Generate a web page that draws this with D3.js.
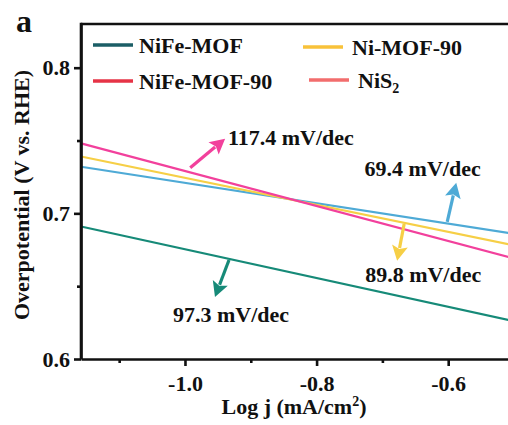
<!DOCTYPE html>
<html>
<head>
<meta charset="utf-8">
<script src="https://cdn.jsdelivr.net/npm/d3@7"></script>
<style>
  body { margin: 0; background: #fff; }
  text { font-family: "Liberation Serif", "Times New Roman", serif; font-weight: bold; fill: #111; }
</style>
</head>
<body>
<svg width="508" height="425"></svg>
<script>
// data
const logJ = [-1.158, -0.5];
const nifeMof = [0.691, 0.626];      // teal, 97.3 mV/dec
const blueLine = [0.732, 0.686];     // blue, 69.4 mV/dec
const yellowLine = [0.739, 0.678];   // yellow, 89.8 mV/dec
const pinkLine = [0.748, 0.669];     // pink, 117.4 mV/dec
const lineColors = ["#168a78", "#4eaad6", "#f6cf46", "#f2409c"];

const legendNames = ["NiFe-MOF", "Ni-MOF-90", "NiFe-MOF-90", "NiS2"];
const legendColors = ["#1b5e66", "#f8c23a", "#e63346", "#f26d6d"];

const xTicks = [-1.0, -0.8, -0.6];
const xMinor = [-1.1, -0.9, -0.7];
const yTicks = [0.6, 0.7, 0.8];
const yMinor = [0.65, 0.75];

// annotations: [tail x, tail y, head x, head y, label x, label y, label, colour]
const notes = [
  [-0.992, 0.7313, -0.939, 0.7512, -0.9346, 0.7471, "117.4 mV/dec", "#f2409c"],
  [-0.6015, 0.6942, -0.5878, 0.7210, -0.7270, 0.7258, "69.4 mV/dec", "#4eaad6"],
  [-0.6669, 0.6928, -0.6776, 0.6674, -0.7262, 0.6529, "89.8 mV/dec", "#f6cf46"],
  [-0.9331, 0.6680, -0.9544, 0.6426, -1.0183, 0.6254, "97.3 mV/dec", "#168a78"]
];

const svg = d3.select("svg");
const mLeft = 81, mTop = 24, mBottom = 359, mRight = 514;

const x = d3.scaleLinear().domain([-1.158, -0.5]).range([mLeft, mRight]);
const y = d3.scaleLinear().domain([0.6, 0.83]).range([mBottom, mTop]);

// series lines
const series = [nifeMof, blueLine, yellowLine, pinkLine];
const line = d3.line().x((d, i) => x(logJ[i])).y(d => y(d));
series.forEach((s, k) => {
  svg.append("path")
    .attr("d", line(s))
    .attr("fill", "none")
    .attr("stroke", lineColors[k])
    .attr("stroke-width", 2.2);
});

// axes
const fs = "22px";
const xAxis = svg.append("g")
  .attr("transform", "translate(0," + mBottom + ")")
  .call(d3.axisBottom(x).tickValues(xTicks).tickFormat(d3.format(".1f")).tickSize(7).tickSizeOuter(0));
xAxis.selectAll("text").style("font-size", fs).attr("dy", "1.0em").text(d => d3.format(".1f")(d).replace("−", "-"));
svg.append("g")
  .attr("transform", "translate(0," + mBottom + ")")
  .call(d3.axisBottom(x).tickValues(xMinor).tickFormat("").tickSize(4).tickSizeOuter(0))
  .select(".domain").remove();

const yAxis = svg.append("g")
  .attr("transform", "translate(" + mLeft + ",0)")
  .call(d3.axisLeft(y).tickValues(yTicks).tickFormat(d3.format(".1f")).tickSize(7).tickSizeOuter(0));
yAxis.selectAll("text").style("font-size", fs).attr("x", -11);
svg.append("g")
  .attr("transform", "translate(" + mLeft + ",0)")
  .call(d3.axisLeft(y).tickValues(yMinor).tickFormat("").tickSize(4).tickSizeOuter(0))
  .select(".domain").remove();

svg.selectAll(".domain, .tick line").attr("stroke", "#111").attr("stroke-width", 2.6);

// top frame line
svg.append("line")
  .attr("x1", mLeft).attr("x2", 508).attr("y1", mTop).attr("y2", mTop)
  .attr("stroke", "#111").attr("stroke-width", 2.6);
// left axis up to the frame
svg.append("line")
  .attr("x1", mLeft).attr("x2", mLeft).attr("y1", mTop - 1.3).attr("y2", mBottom)
  .attr("stroke", "#111").attr("stroke-width", 2.6);

// axis titles
const xt = svg.append("text")
  .attr("x", 294).attr("y", 414)
  .attr("text-anchor", "middle")
  .style("font-size", fs)
  .text("Log j (mA/cm");
xt.append("tspan").attr("dy", -8).style("font-size", "14px").text("2");
xt.append("tspan").attr("dy", 8).text(")");

svg.append("text")
  .attr("transform", "translate(29,195) rotate(-90)")
  .attr("text-anchor", "middle")
  .style("font-size", fs)
  .text("Overpotential (V vs. RHE)");

svg.append("text")
  .attr("x", 16).attr("y", 32)
  .style("font-size", "32px")
  .text("a");

// legend
const legPos = [[93, 45], [303, 47], [93, 81], [309, 80]];
legendNames.forEach((name, i) => {
  const [lx, ly] = legPos[i];
  svg.append("line")
    .attr("x1", lx).attr("x2", lx + 40).attr("y1", ly).attr("y2", ly)
    .attr("stroke", legendColors[i]).attr("stroke-width", 3.5);
  const t = svg.append("text")
    .attr("x", lx + (i % 2 ? 49 : 46)).attr("y", ly + 8)
    .style("font-size", fs);
  if (name === "NiS2") {
    t.text("NiS");
    t.append("tspan").attr("dy", 5).style("font-size", "14px").text("2");
  } else {
    t.text(name);
  }
});

// annotation arrows
notes.forEach(n => {
  const x0 = x(n[0]), y0 = y(n[1]), x1 = x(n[2]), y1 = y(n[3]);
  const dx = x1 - x0, dy = y1 - y0, len = Math.hypot(dx, dy);
  const ux = dx / len, uy = dy / len;
  const hl = 15, hw = 8;
  const bx = x1 - ux * hl, by = y1 - uy * hl;
  svg.append("line")
    .attr("x1", x0).attr("y1", y0).attr("x2", bx + ux * 2).attr("y2", by + uy * 2)
    .attr("stroke", n[7]).attr("stroke-width", 3.2);
  svg.append("path")
    .attr("d", d3.line()([
      [x1, y1],
      [bx - uy * hw, by + ux * hw],
      [bx + ux * 3, by + uy * 3],
      [bx + uy * hw, by - ux * hw]
    ]) + "Z")
    .attr("fill", n[7]);
  svg.append("text")
    .attr("x", x(n[4])).attr("y", y(n[5]))
    .style("font-size", fs)
    .text(n[6]);
});
</script>
</body>
</html>
